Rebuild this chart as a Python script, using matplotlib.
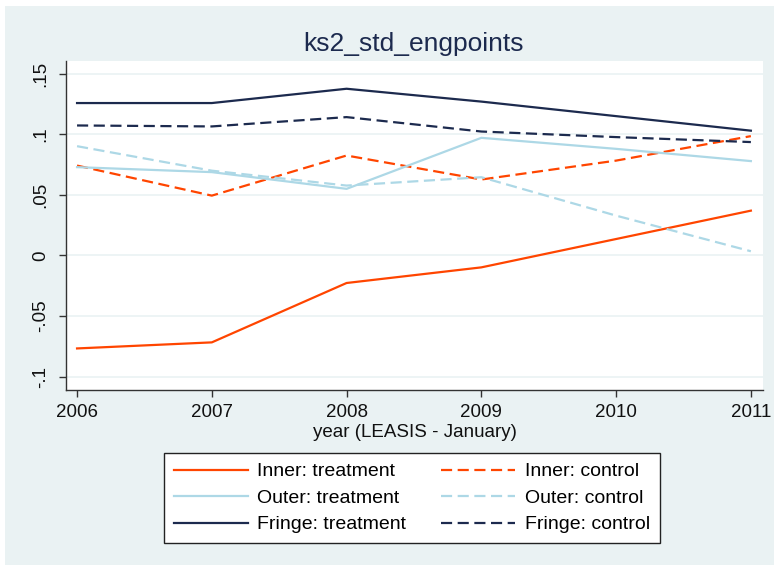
import matplotlib
matplotlib.use("Agg")
import matplotlib.pyplot as plt
from matplotlib.patches import Rectangle

plt.rcParams["font.family"] = ["Liberation Sans", "DejaVu Sans"]

years = [2006, 2007, 2008, 2009, 2010, 2011]
inner_treat = [-0.0767, -0.0717, -0.0227, -0.0098, 0.0136, 0.0370]
inner_ctrl = [0.0742, 0.0494, 0.0825, 0.0627, 0.0783, 0.0985]
outer_treat = [0.0729, 0.0688, 0.0550, 0.0971, 0.0880, 0.0779]
outer_ctrl = [0.0902, 0.0700, 0.0577, 0.0646, 0.0329, 0.0035]
fringe_treat = [0.1258, 0.1258, 0.1376, 0.1270, 0.1150, 0.1030]
fringe_ctrl = [0.1073, 0.1065, 0.1142, 0.1023, 0.0977, 0.0936]

yticks = [-0.1, -0.05, 0, 0.05, 0.1, 0.15]
yticklabels = ["-.1", "-.05", "0", ".05", ".1", ".15"]

ORANGE = "#ff4500"
LBLUE = "#add8e6"
NAVY = "#1c2a4e"
BG = "#eaf2f3"

W, H = 774, 565
fig = plt.figure(figsize=(W / 100, H / 100), dpi=100, facecolor="white")
fig.patches.append(Rectangle((5 / W, 0), 1, 1 - 6 / H, transform=fig.transFigure,
                             facecolor=BG, edgecolor="none", zorder=-1))

ax = fig.add_axes([66 / W, 1 - 390 / H, (763 - 66) / W, (390 - 61) / H])
ax.set_facecolor("white")

lw = 1.6
dash = (5, 2.5)
series = [
    (inner_treat, ORANGE, "-", "Inner: treatment"),
    (inner_ctrl, ORANGE, "--", "Inner: control"),
    (outer_treat, LBLUE, "-", "Outer: treatment"),
    (outer_ctrl, LBLUE, "--", "Outer: control"),
    (fringe_treat, NAVY, "-", "Fringe: treatment"),
    (fringe_ctrl, NAVY, "--", "Fringe: control"),
]
handles = {}
for vals, c, ls, lab in series:
    ln, = ax.plot(years, vals, color=c, lw=lw, label=lab)
    if ls == "--":
        ln.set_dashes(dash)
    handles[lab] = ln

ax.set_xlim(2005.918, 2011.09)
ax.set_ylim(-0.111, 0.1605)
ax.set_yticks(yticks)
ax.set_yticklabels(yticklabels, rotation=90, va="center")
ax.set_xticks(years)
ax.tick_params(axis="both", labelsize=13.5, length=5, width=1, color="#333333",
               labelcolor="#111111")
ax.tick_params(axis="y", pad=7)
ax.tick_params(axis="x", pad=5)
ax.grid(axis="y", color=BG, lw=1.2)
ax.set_axisbelow(True)
for s in ["top", "right"]:
    ax.spines[s].set_visible(False)
for s in ["left", "bottom"]:
    ax.spines[s].set_color("#333333")
    ax.spines[s].set_linewidth(1)

ax.set_xlabel("year (LEASIS - January)", fontsize=13.5, color="#111111", labelpad=2)
fig.text(414 / W, 1 - 44 / H, "ks2_std_engpoints", ha="center", va="center",
         fontsize=19, color=NAVY)

# fig.legend fills column by column, so list the left column first
order = ["Inner: treatment", "Outer: treatment", "Fringe: treatment",
         "Inner: control", "Outer: control", "Fringe: control"]
leg = fig.legend([handles[k] for k in order], order, ncol=2,
                 loc="upper left", bbox_to_anchor=(164 / W, 1 - 453 / H),
                 frameon=True, fancybox=False, framealpha=1, fontsize=14,
                 handlelength=3.8, handletextpad=0.5, columnspacing=1.8,
                 labelspacing=0.46, borderpad=0.5, borderaxespad=0)
leg.get_frame().set_edgecolor("#222222")
leg.get_frame().set_linewidth(1)

fig.savefig("out.png", dpi=100, facecolor="white")
